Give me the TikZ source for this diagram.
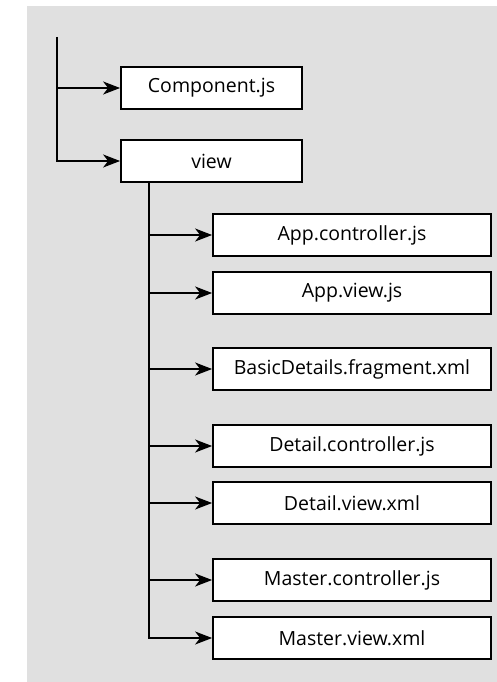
\documentclass[tikz,border=0pt]{standalone}
\usepackage{fontspec}
\setmainfont{Open Sans}
\usetikzlibrary{arrows.meta,positioning}
\definecolor{panel}{HTML}{E0E0E0}

\begin{document}
\begin{tikzpicture}[x=1pt, y=-1pt, line width=1.8pt, >={Stealth[length=17pt,width=13pt,inset=5pt]}]
\useasboundingbox (0,0) rectangle (497,682);
\fill[panel] (27,6) rectangle (497,682);
\tikzstyle{every node} = [draw, fill=white, line width=1.8pt, minimum height=42pt, inner sep=0pt, font=\fontsize{19.5}{22}\selectfont]
\tikzstyle{top} = [minimum width=181pt]
\tikzstyle{file} = [minimum width=278pt]
\node[top] (comp) at (211.5,88) {Component.js};
\node[top] (view) at (211.5,161) {view};
\node[file] (appctrl) at (352,235) {App.controller.js};
\node[file] (appview) at (352,293) {App.view.js};
\node[file] (basic) at (352,369) {BasicDetails.fragment.xml};
\node[file] (detctrl) at (352,446) {Detail.controller.js};
\node[file] (detview) at (352,503) {Detail.view.xml};
\node[file] (mastctrl) at (352,580) {Master.controller.js};
\node[file] (mastview) at (352,638) {Master.view.xml};
\coordinate (root) at (57,37);
\coordinate (v) at (149,182);
% root level
\draw[->] (root) |- (view.west);
\draw[->] (root |- comp.west) -- (comp.west);
% inside view
\draw[->] (v) |- (mastview.west);
\foreach \f in {appctrl, appview, basic, detctrl, detview, mastctrl}
	\draw[->] (v |- \f.west) -- (\f.west);
\end{tikzpicture}
\end{document}
